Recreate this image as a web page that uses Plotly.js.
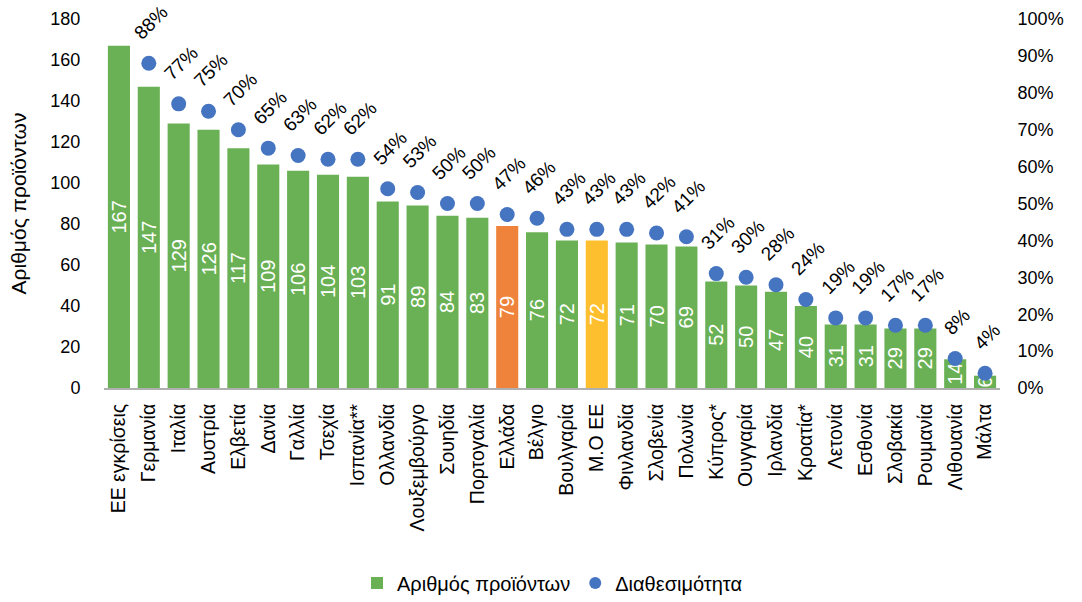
<!DOCTYPE html>
<html>
<head>
<meta charset="utf-8">
<script src="https://cdn.plot.ly/plotly-3.0.1.min.js"></script>
<style>html,body{margin:0;padding:0;background:#fff}#chart{width:1082px;height:602px}</style>
</head>
<body>
<div id="chart"></div>
<script>
const categories = ["ΕΕ εγκρίσεις","Γερμανία","Ιταλία","Αυστρία","Ελβετία","Δανία","Γαλλία","Τσεχία","Ισπανία**","Ολλανδία","Λουξεμβούργο","Σουηδία","Πορτογαλία","Ελλάδα","Βέλγιο","Βουλγαρία","Μ.Ο ΕΕ","Φινλανδία","Σλοβενία","Πολωνία","Κύπρος*","Ουγγαρία","Ιρλανδία","Κροατία*","Λετονία","Εσθονία","Σλοβακία","Ρουμανία","Λιθουανία","Μάλτα"];
const products = [167,147,129,126,117,109,106,104,103,91,89,84,83,79,76,72,72,71,70,69,52,50,47,40,31,31,29,29,14,6];
const availability = [null,88,77,75,70,65,63,62,62,54,53,50,50,47,46,43,43,43,42,41,31,30,28,24,19,19,17,17,8,4];
const leftTicks = [0,20,40,60,80,100,120,140,160,180];
const rightTicks = [0,10,20,30,40,50,60,70,80,90,100];

const GREEN = "#6ab155", ORANGE = "#ef833b", YELLOW = "#fdbf2d", BLUE = "#4574c1";
const barColors = categories.map(c => c === "Ελλάδα" ? ORANGE : (c === "Μ.Ο ΕΕ" ? YELLOW : GREEN));

const FONT = "Liberation Sans, Arial, sans-serif";

const bars = {
  type: "bar", name: "Αριθμός προϊόντων",
  x: categories, y: products,
  marker: {color: barColors},
  text: products.map(String),
  textposition: "inside", insidetextanchor: "middle", textangle: -90,
  textfont: {color: "#ffffff", size: 20, family: FONT},
  constraintext: "none",
  hoverinfo: "x+y"
};
const dots = {
  type: "scatter", mode: "markers", name: "Διαθεσιμότητα",
  x: categories, y: availability, yaxis: "y2",
  marker: {color: BLUE, size: 15},
  hoverinfo: "x+y"
};

const annotations = [];
categories.forEach((c, i) => {
  if (availability[i] === null) return;
  annotations.push({
    x: c, y: availability[i], xref: "x", yref: "y2",
    text: availability[i] + "%", showarrow: false, textangle: -45,
    xanchor: "center", yanchor: "bottom", yshift: 17, xshift: 2,
    font: {size: 19, color: "#000", family: FONT}
  });
});

const layout = {
  width: 1082, height: 602,
  margin: {l: 104, r: 82, t: 19, b: 214},
  paper_bgcolor: "#fff", plot_bgcolor: "#fff",
  font: {family: FONT, size: 18, color: "#000"},
  bargap: 0.26,
  showlegend: true,
  legend: {orientation: "h", x: 0.5, xanchor: "center", xref: "paper",
           y: 19 / 602, yref: "container", yanchor: "middle",
           font: {size: 20, family: FONT}, itemsizing: "constant", traceorder: "normal"},
  uniformtext: {mode: "show", minsize: 20},
  xaxis: {
    type: "category", range: [-0.5, categories.length - 0.5], automargin: false,
    tickangle: -90, showgrid: false, zeroline: false,
    showline: true, linecolor: "#b0b0b0", linewidth: 2,
    ticks: "outside", ticklen: 6, tickcolor: "rgba(0,0,0,0)",
    tickfont: {size: 19.5, family: FONT}
  },
  yaxis: {
    range: [0, 180], tickvals: leftTicks, automargin: false,
    showgrid: false, zeroline: false, showline: false,
    ticks: "outside", ticklen: 19, tickcolor: "rgba(0,0,0,0)",
    tickfont: {size: 18, family: FONT},
    title: {text: "Αριθμός προϊόντων", font: {size: 21, family: FONT}, standoff: 18}
  },
  yaxis2: {
    overlaying: "y", side: "right", range: [0, 100], tickvals: rightTicks, automargin: false,
    ticktext: rightTicks.map(v => v + "%"),
    showgrid: false, zeroline: false, showline: false,
    ticks: "outside", ticklen: 13, tickcolor: "rgba(0,0,0,0)",
    tickfont: {size: 18, family: FONT}
  },
  annotations: annotations
};

Plotly.newPlot("chart", [bars, dots], layout, {displayModeBar: false, responsive: false});
</script>
</body>
</html>
